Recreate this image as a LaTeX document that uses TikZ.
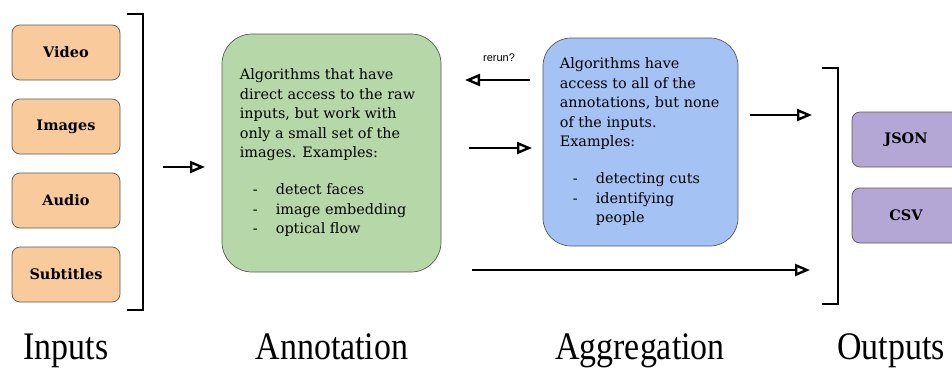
\documentclass[tikz,border=0pt]{standalone}
\usepackage{fontspec}
\setmainfont{DejaVu Serif}
\newfontfamily\labelfont[FakeStretch=0.87]{Liberation Serif}
\newfontfamily\smallsans{Liberation Sans}
\usetikzlibrary{arrows.meta}
\definecolor{inorange}{HTML}{F9CB9C}
\definecolor{angreen}{HTML}{B6D7A8}
\definecolor{agblue}{HTML}{A4C2F4}
\definecolor{outpurple}{HTML}{B4A7D6}
\definecolor{edgegrey}{HTML}{595959}
\tikzset{
  base box/.style={draw=edgegrey, line width=0.7pt},
  inbox/.style={base box, fill=inorange, rounded corners=8pt, minimum width=108pt, minimum height=55pt, inner sep=0pt, font=\bfseries\fontsize{14.5}{16}\selectfont},
  outbox/.style={base box, fill=outpurple, rounded corners=8pt, minimum width=108pt, minimum height=55pt, inner sep=0pt, font=\bfseries\fontsize{14.5}{16}\selectfont},
  bigbox/.style={base box, rounded corners=28pt, inner sep=0pt},
  boxtext/.style={align=left, inner sep=0pt, font=\fontsize{14.4}{19.5}\selectfont},
  flow/.style={line width=2.6pt, -{Triangle[open, length=15pt, width=12pt, line width=2.4pt]}},
  bracket/.style={line width=2.4pt},
  stagelabel/.style={anchor=base, inner sep=0pt, font=\labelfont\fontsize{39}{40}\selectfont},
}
\newcommand{\bitem}[1]{\hspace*{13pt}\makebox[23pt][l]{-}#1}
\newcommand{\bcont}[1]{\hspace*{36pt}#1}
\begin{document}
\begin{tikzpicture}[x=1pt,y=-1pt]
\useasboundingbox (0,0) rectangle (952,372);
% inputs
\node[inbox] (video) at (66,52.5) {Video};
\node[inbox] (images) at (66,126.5) {Images};
\node[inbox] (audio) at (66,200.5) {Audio};
\node[inbox] (subtitles) at (66,274.5) {Subtitles};
\draw[bracket] (127,14) -| (143,310) -- (127,310);
% annotation
\node[bigbox, fill=angreen, minimum width=219pt, minimum height=238pt, rounded corners=30pt] (annot) at (331.5,153) {};
\node[boxtext, anchor=west] (annottext) at ([xshift=18pt]annot.west) {Algorithms that have\\direct access to the raw\\inputs, but work with\\only a small set of the\\images. Examples:\\[17.5pt]\bitem{detect faces}\\\bitem{image embedding}\\\bitem{optical flow}};
% aggregation
\node[bigbox, fill=agblue, minimum width=195pt, minimum height=208pt] (aggr) at (640.5,142) {};
\node[boxtext, anchor=west] (aggrtext) at ([xshift=17pt]aggr.west) {Algorithms have\\access to all of the\\annotations, but none\\of the inputs.\\Examples:\\[17.5pt]\bitem{detecting cuts}\\\bitem{identifying}\\\bcont{people}};
% outputs
\draw[bracket] (822,68) -| (838,304) -- (822,304);
\node[outbox] (json) at (906,139.5) {JSON};
\node[outbox] (csv) at (906,215.5) {CSV};
% connector coordinates
\coordinate (in1) at (163,167);
\coordinate (in2) at (205,167);
\coordinate (rr1) at (530,80);
\coordinate (rr2) at (465,80);
\coordinate (ag1) at (469,148);
\coordinate (ag2) at (532,148);
\coordinate (ou1) at (750,115);
\coordinate (ou2) at (812,115);
\coordinate (lo1) at (472,270);
\coordinate (lo2) at (810,270);
\draw[flow] (in1) -- (in2);
\draw[flow] (rr1) -- (rr2);
\draw[flow] (ag1) -- (ag2);
\draw[flow] (ou1) -- (ou2);
\draw[flow] (lo1) -- (lo2);
\node[font=\smallsans\fontsize{11}{12}\selectfont, inner sep=0pt] (rerun) at (499,58) {rerun?};
% stage labels
\node[stagelabel] (linputs) at (66,359) {Inputs};
\node[stagelabel] (lannot) at (332,359) {Annotation};
\node[stagelabel] (laggr) at (640,359) {Aggregation};
\node[stagelabel] (lout) at (891,359) {Outputs};
\end{tikzpicture}
\end{document}
